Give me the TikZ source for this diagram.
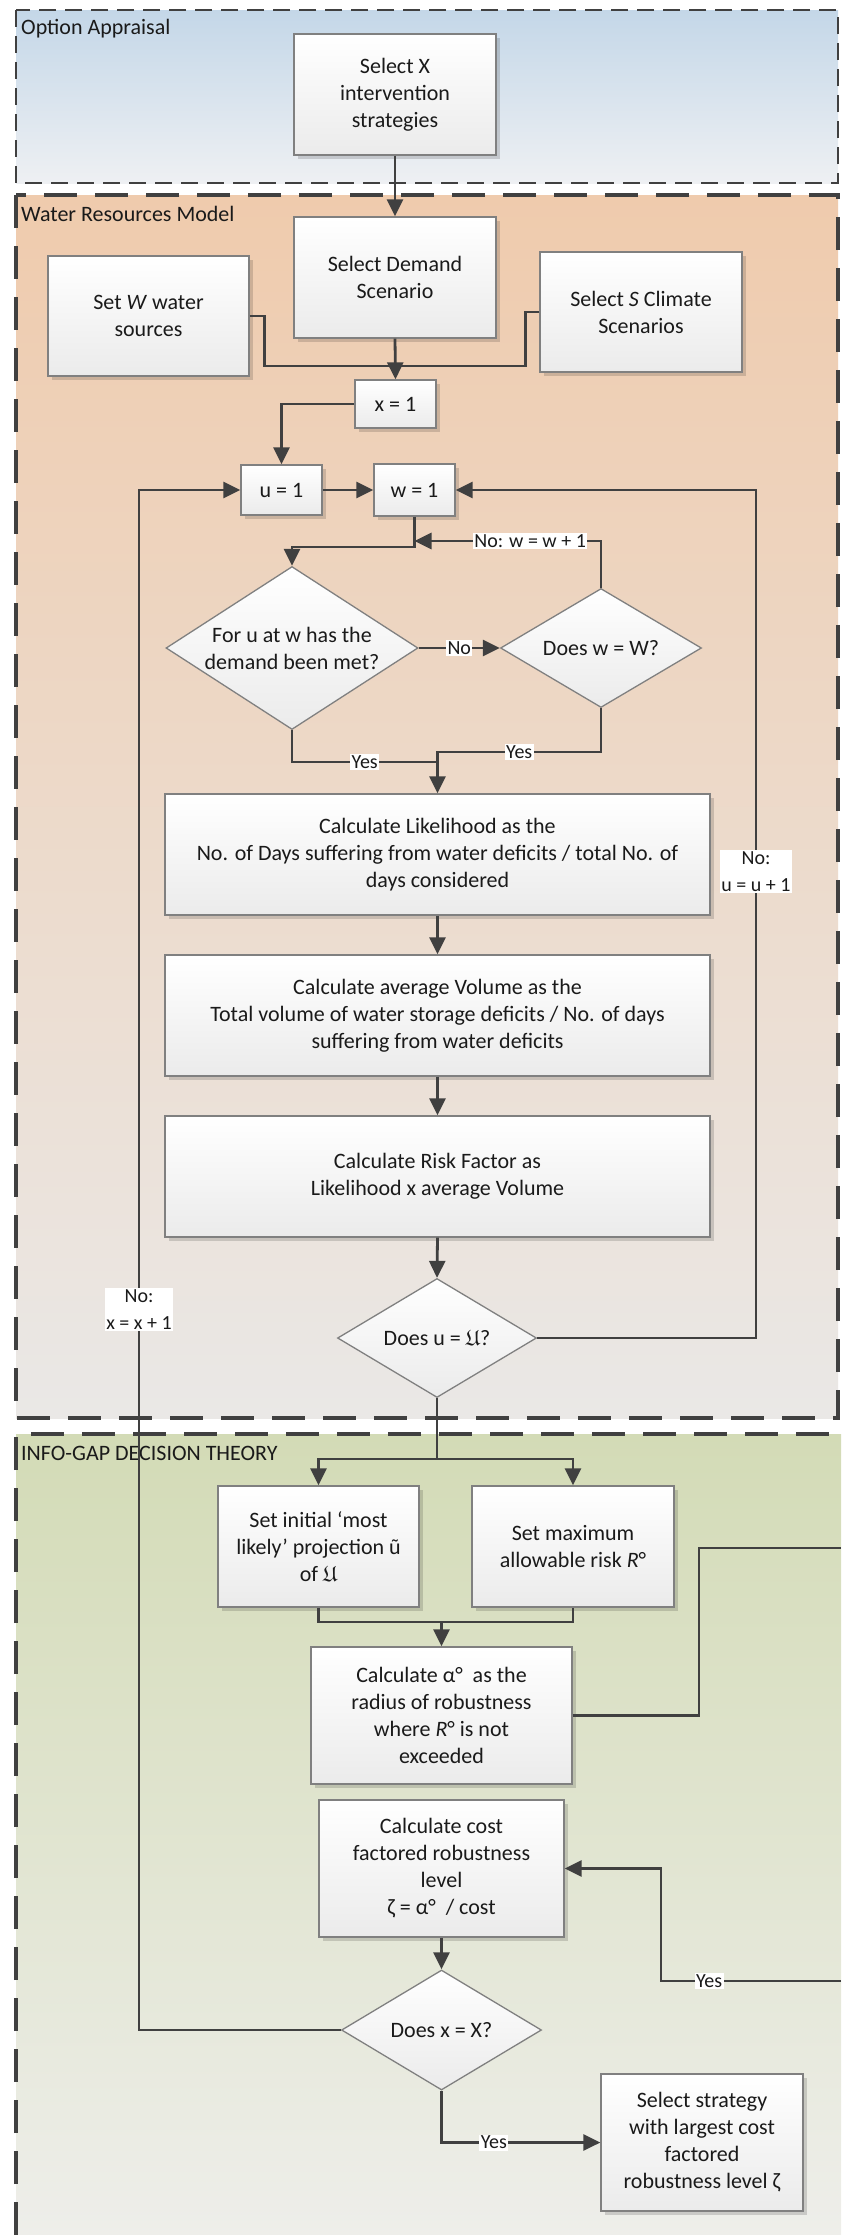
\documentclass[tikz,border=0pt]{standalone}
\usepackage{fontspec}
\setmainfont{Carlito}
\usepackage{amssymb}
\usetikzlibrary{arrows.meta,shadows,shapes.geometric,calc}
\definecolor{ln}{HTML}{404040}
\definecolor{bd}{HTML}{808080}
\definecolor{boxbot}{HTML}{EBEBEB}
\definecolor{oaT}{HTML}{C4D7E8}
\definecolor{oaB}{HTML}{EEF0F3}
\definecolor{wrT}{HTML}{EFCBAD}
\definecolor{wrB}{HTML}{EAE8E6}
\definecolor{igT}{HTML}{D3DBB6}
\definecolor{igB}{HTML}{EEEEEA}
\definecolor{tx}{HTML}{1A1A1A}
\begin{document}
\begin{tikzpicture}[x=1pt,y=-1pt,
  box/.style={draw=bd,line width=1.3pt,top color=white,bottom color=boxbot,
    drop shadow={shadow xshift=4pt,shadow yshift=-4pt,fill=black,opacity=0.15},
    align=center,inner sep=2pt,text=tx,font=\fontsize{22}{27}\selectfont},
  dia/.style={diamond,draw=bd,line width=1.3pt,top color=white,bottom color=boxbot,inner sep=0pt},
  diatext/.style={align=center,text=tx,inner sep=0pt,font=\fontsize{22}{27}\selectfont},
  conn/.style={draw=ln,line width=2.8pt},
  arr/.style={conn,-{Triangle[length=17pt,width=16pt]}},
  lab/.style={fill=white,inner sep=1.5pt,text=tx,font=\fontsize{20}{27}\selectfont,align=center},
  region/.style={anchor=west,inner sep=2pt,text=tx,font=\fontsize{22}{26}\selectfont},
  oadash/.style={draw=ln,line width=2.6pt,dash pattern=on 17pt off 9pt},
  wrdash/.style={draw=ln,line width=4pt,dash pattern=on 33pt off 18pt},
]
\useasboundingbox (0,0) rectangle (841,2235);
\fill[white] (0,0) rectangle (841,2235);

% regions
\shade[top color=oaT,bottom color=oaB] (16,10) rectangle (838,183);
\draw[oadash] (16,10) rectangle (838,183);
\shade[top color=wrT,bottom color=wrB] (16,195) rectangle (838,1418);
\draw[wrdash] (16,195) rectangle (838,1418);
\shade[top color=igT,bottom color=igB] (16,1434) rectangle (841,2235);
\draw[wrdash] (16,2235) -- (16,1434) -- (841,1434);

\node[region] (oalab) at (19,29) {Option Appraisal};
\node[region] (wrlab) at (19,214) {Water Resources Model};
\node[region] (iglab) at (19,1453) {INFO-GAP DECISION THEORY};

% boxes
\node[box,minimum width=202pt,minimum height=121pt] (selX) at (395,94.5) {Select X\\intervention\\strategies};
\node[box,minimum width=202pt,minimum height=121pt] (demand) at (395,277.5) {Select Demand\\Scenario};
\node[box,minimum width=201pt,minimum height=120pt] (setW) at (148.5,316) {Set \textit{W} water\\sources};
\node[box,minimum width=202pt,minimum height=120pt] (climate) at (641,312) {Select \textit{S} Climate\\Scenarios};
\node[box,minimum width=81pt,minimum height=48pt] (x1) at (395.5,404) {x = 1};
\node[box,minimum width=81pt,minimum height=50pt] (u1) at (281.5,490) {u = 1};
\node[box,minimum width=81pt,minimum height=52pt] (w1) at (414.5,490) {w = 1};

\node[dia,minimum width=252pt,minimum height=163pt] (d1) at (292,648) {};
\node[diatext] (d1t) at (d1) {For u at w has the\\demand been met?};
\node[dia,minimum width=201pt,minimum height=119pt] (d2) at (601,648) {};
\node[diatext] (d2t) at (d2) {Does w = W?};

\node[box,minimum width=545pt,minimum height=121pt] (like) at (437.5,854.5) {Calculate Likelihood as the\\No. of Days suffering from water deficits / total No. of\\days considered};
\node[box,minimum width=545pt,minimum height=121pt] (vol) at (437.5,1015.5) {Calculate average Volume as the\\Total volume of water storage deficits / No. of days\\suffering from water deficits};
\node[box,minimum width=545pt,minimum height=121pt] (risk) at (437.5,1176.5) {Calculate Risk Factor as\\Likelihood x average Volume};

\node[dia,minimum width=199pt,minimum height=119pt] (d3) at (437,1338) {};
\node[diatext] (d3t) at (d3) {Does u = $\mathfrak{U}$?};

\node[box,minimum width=201pt,minimum height=121pt] (proj) at (318.5,1546.5) {Set initial ‘most\\likely’ projection ũ\\of $\mathfrak{U}$};
\node[box,minimum width=202pt,minimum height=121pt] (maxR) at (573,1546.5) {Set maximum\\allowable risk \textit{R}°};
\node[box,minimum width=261pt,minimum height=137pt] (alpha) at (441.5,1715.5) {Calculate α°\ \ as the\\radius of robustness\\where \textit{R}° is not\\exceeded};
\node[box,minimum width=245pt,minimum height=137pt] (cost) at (441.5,1868.5) {Calculate cost\\factored robustness\\level\\ζ = α°\ \ / cost};
\node[dia,minimum width=200pt,minimum height=120pt] (d4) at (441.5,2030) {};
\node[diatext] (d4t) at (d4) {Does x = X?};
\node[box,minimum width=202pt,minimum height=137pt] (sel) at (702,2142.5) {Select strategy\\with largest cost\\factored\\robustness level ζ};

% connectors
\draw[arr] (selX.south) -- (demand.north);
\coordinate (m1) at (395.5,366);
\draw[conn] (setW.east) -- ++(15,0) |- (m1);
\draw[conn] (climate.west) -- ++(-14,0) |- (m1);
\draw[arr] (demand.south) -- (x1.north);
\draw[arr] (x1.west) -| (u1.north);
\draw[arr] (u1.east) -- (w1.west);
\coordinate (j1) at (414.5,547);
\draw[arr] (w1.south) -- (j1) -| (d1.north);
\coordinate (j2) at (414.5,541);
\draw[arr] (d2.north) |- node[lab,pos=0.69]{No: w = w + 1} (j2);
\draw[arr] (d1.east) -- node[lab]{No} (d2.west);
\coordinate (m2) at (437.5,762);
\coordinate (m3) at (437.5,752);
\draw[conn] (d1.south) |- node[lab,pos=0.75]{Yes} (m2);
\draw[arr] (d2.south) |- node[lab,pos=0.75]{Yes} (m3) -- (like.north);
\draw[arr] (like.south) -- (vol.north);
\draw[arr] (vol.south) -- (risk.north);
\draw[arr] (risk.south) -- (d3.north);
\coordinate (rc) at (756,490);
\draw[arr] (d3.east) -| node[lab,pos=0.775]{No:\\u = u + 1} (rc) -- (w1.east);
\coordinate (lc) at (139,490);
\draw[arr] (d4.west) -| node[lab,pos=0.734]{No:\\x = x + 1} (lc) -- (u1.west);
\coordinate (s1) at (437,1459);
\draw[conn] (d3.south) -- (s1);
\draw[arr] (s1) -| (proj.north);
\draw[arr] (s1) -| (maxR.north);
\coordinate (s2) at (441.5,1622);
\draw[conn] (proj.south) |- (s2) -| (maxR.south);
\draw[arr] (s2) -- (alpha.north);
\coordinate (k1) at (699,1548);
\coordinate (e1) at (841,1548);
\draw[conn] (alpha.east) -| (k1) -- (e1);
\coordinate (e2) at (841,1981);
\coordinate (k2) at (661,1981);
\draw[arr] (e2) -- node[lab,pos=0.733]{Yes} (k2) |- (cost.east);
\draw[arr] (cost.south) -- (d4.north);
\draw[arr] (d4.south) |- node[lab,pos=0.665]{Yes} (sel.west);
\end{tikzpicture}
\end{document}
